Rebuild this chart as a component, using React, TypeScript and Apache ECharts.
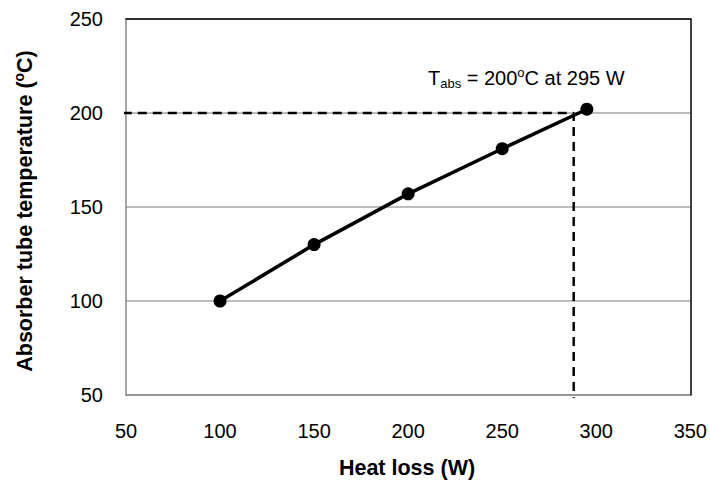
import React, { useEffect, useRef } from "react";
import * as echarts from "echarts";

const heatLoss = [100, 150, 200, 250, 295];
const absorberTemp = [100, 130, 157, 181, 202];
const guideX = [48.3, 288, 288];
const guideY = [200, 200, 48.5];
const xTicks = { min: 50, max: 350, step: 50 };
const yTicks = { min: 50, max: 250, step: 50 };

const FONT = "'Liberation Sans', Arial, sans-serif";

export default function App() {
  const ref = useRef<HTMLDivElement>(null);
  useEffect(() => {
    if (!ref.current) return;
    const chart = echarts.init(ref.current, undefined, { renderer: "svg" });
    const grid = { left: 126, right: 19, top: 19, bottom: 86 };
    chart.setOption({
      animation: false,
      backgroundColor: "#fff",
      grid,
      xAxis: [
        {
          type: "value",
          min: xTicks.min,
          max: xTicks.max,
          interval: xTicks.step,
          position: "bottom",
          axisLine: { show: true, lineStyle: { color: "#888", width: 1.5 } },
          axisTick: { show: false },
          splitLine: { show: false },
          axisLabel: { color: "#000", fontSize: 20, fontFamily: FONT, margin: 26 },
        },
        {
          type: "value",
          min: xTicks.min,
          max: xTicks.max,
          interval: xTicks.step,
          position: "top",
          z: 5,
          axisLine: { show: true, onZero: false, lineStyle: { color: "#000", width: 1.5 } },
          axisTick: { show: false },
          splitLine: { show: false },
          axisLabel: { show: false },
        },
      ],
      yAxis: [
        {
          type: "value",
          min: yTicks.min,
          max: yTicks.max,
          interval: yTicks.step,
          position: "left",
          axisLine: { show: true, lineStyle: { color: "#888", width: 1.5 } },
          axisTick: { show: false },
          splitLine: { show: true, lineStyle: { color: "#a6a6a6", width: 1.5 } },
          axisLabel: { color: "#000", fontSize: 20, fontFamily: FONT, margin: 23 },
        },
        {
          type: "value",
          min: yTicks.min,
          max: yTicks.max,
          interval: yTicks.step,
          position: "right",
          z: 5,
          axisLine: { show: true, onZero: false, lineStyle: { color: "#000", width: 1.5 } },
          axisTick: { show: false },
          splitLine: { show: false },
          axisLabel: { show: false },
        },
      ],
      series: [
        {
          type: "line",
          data: guideX.map((x, i) => [x, guideY[i]]),
          clip: false,
          symbol: "none",
          z: 3,
          lineStyle: { color: "#000", width: 2.5, type: [9, 6] },
        },
        {
          type: "line",
          data: heatLoss.map((x, i) => [x, absorberTemp[i]]),
          symbol: "circle",
          symbolSize: 13,
          z: 4,
          lineStyle: { color: "#000", width: 3.5 },
          itemStyle: { color: "#000" },
        },
      ],
      graphic: [
        {
          type: "text",
          x: 428,
          y: 78,
          style: {
            text: "{b|T}{sub|abs}{b| = 200}{sup|o}{b|C at 295 W}",
            verticalAlign: "middle",
            rich: {
              b: { fontSize: 20, fontFamily: FONT, fill: "#000", lineHeight: 24 },
              sub: { fontSize: 13, fontFamily: FONT, fill: "#000", verticalAlign: "bottom", lineHeight: 14, padding: [10, 0, 0, 0] },
              sup: { fontSize: 13, fontFamily: FONT, fill: "#000", verticalAlign: "top", lineHeight: 14, padding: [0, 0, 8, 0] },
            },
          },
        },
        {
          type: "text",
          x: 407,
          y: 468,
          style: {
            text: "Heat loss (W)",
            font: `bold 21.5px ${FONT}`,
            fill: "#000",
            align: "center",
            verticalAlign: "middle",
          },
        },
        {
          type: "text",
          x: 25,
          y: 211,
          rotation: Math.PI / 2,
          style: {
            text: "{b|Absorber tube temperature (}{sup|o}{b|C)}",
            align: "center",
            verticalAlign: "middle",
            rich: {
              b: { fontSize: 21.5, fontWeight: "bold", fontFamily: FONT, fill: "#000", lineHeight: 26 },
              sup: { fontSize: 14, fontWeight: "bold", fontFamily: FONT, fill: "#000", verticalAlign: "top", lineHeight: 15, padding: [0, 0, 8, 0] },
            },
          },
        },
      ],
    });
    return () => chart.dispose();
  }, []);
  return <div ref={ref} style={{ width: 710, height: 481, position: "absolute", left: 0, top: 0 }} />;
}
